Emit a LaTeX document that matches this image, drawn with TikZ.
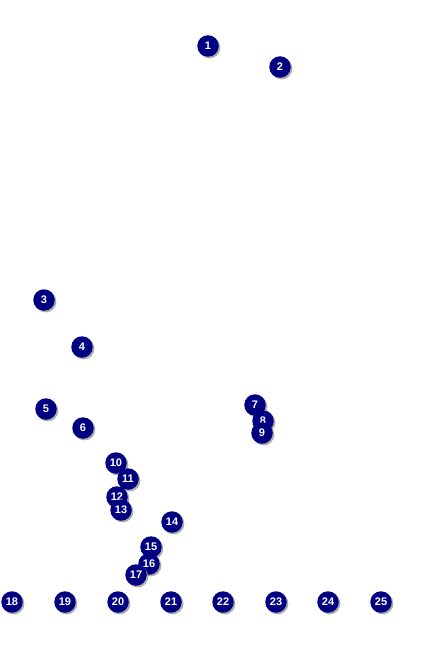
\documentclass[tikz,border=0pt]{standalone}
\usepackage{fontspec}
\setsansfont{Liberation Sans}
\usepackage{tikz}
\usetikzlibrary{shadows}
\definecolor{MarkNavy}{RGB}{0, 0, 128}
\definecolor{MarkShade}{RGB}{150, 150, 150}
\tikzset{
  marker/.style={circle,fill=MarkNavy,text=white,inner sep=0pt,minimum size=21.5pt,
    font=\sffamily\bfseries\fontsize{11}{12}\selectfont,
    drop shadow={shadow xshift=1.6pt,shadow yshift=-1.6pt,fill=MarkShade,opacity=0.8}}
}
\begin{document}
\begin{tikzpicture}[x=1pt,y=-1pt]
    \useasboundingbox (0,0) rectangle (432,650);
    \node[marker] (m1) at (208,46) {1};
    \node[marker] (m2) at (280,67) {2};
    \node[marker] (m3) at (44,300) {3};
    \node[marker] (m4) at (82,347) {4};
    \node[marker] (m5) at (46,409) {5};
    \node[marker] (m6) at (83,428) {6};
    \node[marker] (m7) at (255,405) {7};
    \node[marker] (m8) at (263,421) {8};
    \node[marker] (m9) at (262,433) {9};
    \node[marker] (m10) at (116,463) {10};
    \node[marker] (m11) at (128,479) {11};
    \node[marker] (m12) at (117,497) {12};
    \node[marker] (m13) at (121,510) {13};
    \node[marker] (m14) at (172,522) {14};
    \node[marker] (m15) at (151,547) {15};
    \node[marker] (m16) at (149,564) {16};
    \node[marker] (m17) at (136,575) {17};
    \node[marker] (m18) at (12,602) {18};
    \node[marker] (m19) at (65,602) {19};
    \node[marker] (m20) at (118,602) {20};
    \node[marker] (m21) at (171,602) {21};
    \node[marker] (m22) at (223,602) {22};
    \node[marker] (m23) at (276,602) {23};
    \node[marker] (m24) at (328,602) {24};
    \node[marker] (m25) at (381,602) {25};
  \end{tikzpicture}
\end{document}
